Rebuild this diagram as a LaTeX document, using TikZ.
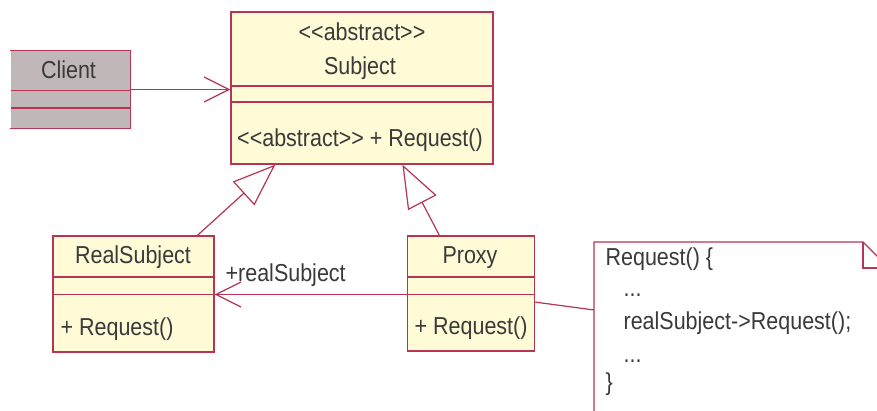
\documentclass[tikz,border=0pt]{standalone}
\usepackage{fontspec}
\setmainfont{Liberation Sans}
\usetikzlibrary{arrows.meta}
\usetikzlibrary{calc}
\definecolor{rand}{RGB}{184,52,84}
\definecolor{gelb}{RGB}{255,251,214}
\definecolor{grau}{RGB}{192,184,184}
\definecolor{schrift}{RGB}{58,58,58}
\newcommand{\hoch}[1]{\scalebox{1}[1.14]{#1}}

\begin{document}
\begin{tikzpicture}[x=1pt,y=-1pt,line width=1.2pt,
	klasse/.style={draw=rand,fill=gelb,inner sep=0pt},
	txt/.style={text=schrift,inner sep=0pt,anchor=base,font=\fontsize{21.5}{24}\selectfont},
	links/.style={txt,anchor=base west},
	offen/.style={-{Straight Barb[length=25pt,width=25pt,line width=1.2pt]}},
	erbt/.style={-{Triangle[open,length=43pt,width=32pt,line width=1.2pt,fill=white]}}]
	\clip (0,0) rectangle (877,410);
	\fill[white] (0,0) rectangle (877,410);
	% Client
	\node[fill=grau,inner sep=0pt,minimum width=119pt,minimum height=77pt] (Client) at (70.5,89.5) {};
	\draw[rand] (Client.north west) -- (Client.north east) -- (Client.south east) -- (Client.south west);
	\draw[rand] (11,90.5) -- (130,90.5);
	\draw[rand] (11,108) -- (130,108);
	\node[txt] (ClientName) at (68.5,78) {\hoch{Client}};
	% Subject
	\node[klasse,minimum width=262pt,minimum height=152pt] (Subject) at (362,88) {};
	\draw[rand] (231,86) -- (493,86);
	\draw[rand] (231,102) -- (493,102);
	\node[txt] (SubjectStereo) at (362,40) {\hoch{<{}<abstract>{}>}};
	\node[txt] (SubjectName) at (360,74) {\hoch{Subject}};
	\node[txt] (SubjectOp) at (360,146) {\hoch{<{}<abstract>{}> + Request()}};
	% RealSubject
	\node[klasse,minimum width=161pt,minimum height=116pt] (RealSubject) at (133.5,294) {};
	\draw[rand] (53,277) -- (214,277);
	\draw[rand] (53,294.5) -- (214,294.5);
	\node[txt] (RealSubjectName) at (133,263) {\hoch{RealSubject}};
	\node[links] (RealSubjectOp) at (60,335) {\hoch{+ Request()}};
	% Proxy
	\node[klasse,minimum width=127pt,minimum height=115pt] (Proxy) at (471,293.5) {};
	\draw[rand] (407.5,277) -- (534.5,277);
	\draw[rand] (407.5,294.5) -- (534.5,294.5);
	\node[txt] (ProxyName) at (470,263) {\hoch{Proxy}};
	\node[links] (ProxyOp) at (414,334) {\hoch{+ Request()}};
	% Notiz
	\draw[rand,fill=white] (594,420) -- (594,242) -- (863,242) -- (889,268) -- (889,420);
	\draw[rand] (863,242) -- (863,268) -- (889,268);
	\node[links] (N1) at (605,265) {\hoch{Request() \{}};
	\node[links] (N2) at (623,296) {\hoch{...}};
	\node[links] (N3) at (623,329) {\hoch{realSubject->Request();}};
	\node[links] (N4) at (623,362) {\hoch{...}};
	\node[links] (N5) at (605,390) {\hoch{\}}};
	\coordinate (NoteIn) at (594,310);
	\coordinate (ProxyOut) at (534.5,302);
	\coordinate (RealUp) at ($(RealSubject.north west)+(145,0)$);
	\coordinate (ProxyUp) at ($(Proxy.north west)+(32.5,0)$);
	\coordinate (SubjectL) at ($(Subject.south west)+(45,0)$);
	\coordinate (SubjectR) at ($(Subject.south west)+(172,0)$);
	% Verbindungen
	\draw[rand,offen] (Client.east |- 0,89.5) -- (Subject.west |- 0,89.5);
	\draw[rand,offen] (Proxy.west |- 0,294.5) -- (RealSubject.east |- 0,294.5);
	\node[links] (RolleLabel) at (225,281.5) {\hoch{+realSubject}};
	\draw[rand,erbt] (RealUp) -- (SubjectL);
	\draw[rand,erbt] (ProxyUp) -- (SubjectR);
	\draw[rand] (ProxyOut) -- (NoteIn);
\end{tikzpicture}
\end{document}
